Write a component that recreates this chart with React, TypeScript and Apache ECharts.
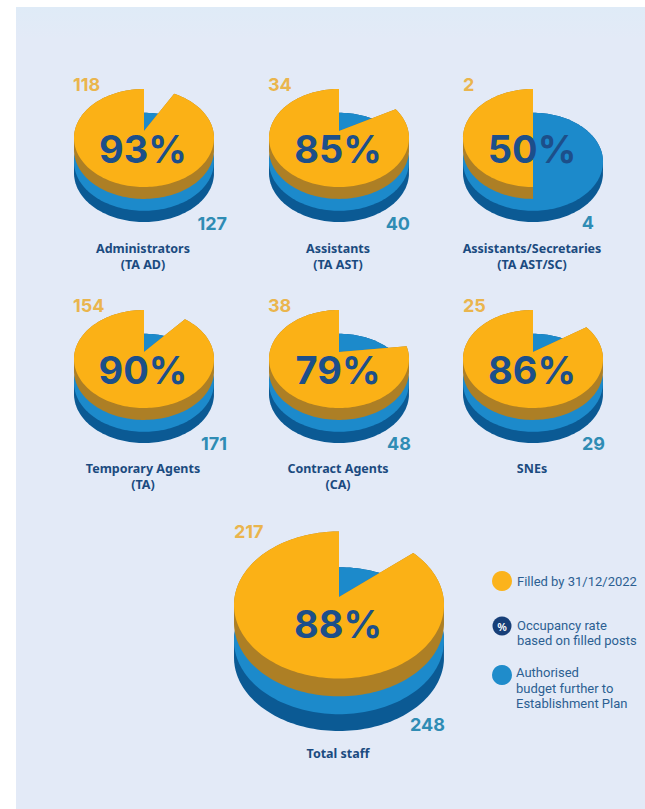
import React, { useEffect, useRef } from "react";
import * as echarts from "echarts";

// Staff figures per category
const categories = [
  ["Administrators", "(TA AD)"],
  ["Assistants", "(TA AST)"],
  ["Assistants/Secretaries", "(TA AST/SC)"],
  ["Temporary Agents", "(TA)"],
  ["Contract Agents", "(CA)"],
  ["SNEs"],
  ["Total staff"],
];
const filledPosts = [118, 34, 2, 154, 38, 25, 217];
const authorisedPosts = [127, 40, 4, 171, 48, 29, 248];
const occupancyLabels = ["93%", "85%", "50%", "90%", "79%", "86%", "88%"];

const legendFilled = "Filled by 31/12/2022";
const legendRate = "Occupancy rate\nbased on filled posts";
const legendBudget = "Authorised\nbudget further to\nEstablishment Plan";

// Page placement of each pie: disc centre, wedge apex, horizontal radius, and its captions
const pieLayout = [
  { cx: 144, cy: 138, ay: 131, rx: 70, filledX: 73, filledY: 84, budgetX: 227, budgetY: 223, nameY: 248 },
  { cx: 339, cy: 138, ay: 131, rx: 70, filledX: 268, filledY: 84, budgetX: 410, budgetY: 223, nameY: 248 },
  { cx: 533, cy: 138, ay: 131, rx: 70, filledX: 463, filledY: 84, budgetX: 594, budgetY: 222, nameY: 248 },
  { cx: 144, cy: 359, ay: 352, rx: 70, filledX: 73, filledY: 305, budgetX: 227, budgetY: 443, nameY: 468 },
  { cx: 339, cy: 359, ay: 352, rx: 70, filledX: 268, filledY: 305, budgetX: 411, budgetY: 443, nameY: 468 },
  { cx: 533, cy: 359, ay: 352, rx: 70, filledX: 463, filledY: 305, budgetX: 605, budgetY: 443, nameY: 468 },
  { cx: 339, cy: 605, ay: 597, rx: 105, filledX: 234, filledY: 531, budgetX: 445, budgetY: 724, nameY: 753 },
];

const GOLD = "#fbb116";
const BROWN = "#ad7f25";
const BLUE = "#1c8acb";
const DEEP = "#0b5a94";
const NAVY = "#1c4f8a";
const FONT = "Inter";
const CAPTION_FONT = "'Noto Sans'";
const LEGEND_FONT = "Roboto";

// One point on a tilted disc's rim; the near half can be dropped to form the disc's side
const rimPoint = (p: any, deg: number, shift: number, drop: number) => {
  const t = (deg * Math.PI) / 180;
  const c = Math.cos(t);
  return [p.cx + p.rx * Math.sin(t), p.cy + shift - p.rx * 0.7 * c + (c < 0 ? drop : 0)];
};

const rimPoints = (p: any, from: number, to: number, shift: number, drop: number) => {
  const pts: number[][] = [];
  for (let a = from; a < to; a += 2) pts.push(rimPoint(p, a, shift, drop));
  pts.push(rimPoint(p, to, shift, drop));
  return pts;
};

const renderPie = (params: any, api: any) => {
  const i = params.dataIndex;
  const p = pieLayout[i];
  const filled = api.value(0);
  const authorised = api.value(1);
  const gap = 360 * (1 - filled / authorised);
  const d1 = p.rx * 0.17;
  const d2 = p.rx * 0.34;
  const d3 = p.rx * 0.5;
  const apex = [p.cx, p.ay];
  const wedge = rimPoints(p, gap, 360, 0, 0);
  const wedgeSide = rimPoints(p, gap, 360, 0, d1);
  const k = p.rx / 70;
  const lines = categories[i];

  const children: any[] = [
    { type: "polygon", shape: { points: rimPoints(p, 0, 360, d2, d3 - d2) }, style: { fill: DEEP } },
    { type: "polygon", shape: { points: rimPoints(p, 0, 360, d2, 0) }, style: { fill: BLUE } },
    { type: "polygon", shape: { points: [apex, ...wedgeSide] }, style: { fill: BROWN } },
    { type: "polygon", shape: { points: [apex, ...wedge] }, style: { fill: GOLD } },
    {
      type: "text",
      style: {
        x: p.cx - 1,
        y: p.ay + 18 * k,
        text: occupancyLabels[i],
        fill: NAVY,
        font: `700 38px ${FONT}`,
        align: "center",
        verticalAlign: "middle",
      },
    },
    {
      type: "text",
      style: {
        x: p.filledX,
        y: p.filledY,
        text: String(filled),
        fill: "#eab54d",
        font: `700 18px ${FONT}`,
        align: "left",
        verticalAlign: "middle",
      },
    },
    {
      type: "text",
      style: {
        x: p.budgetX,
        y: p.budgetY,
        text: String(authorised),
        fill: "#2f8cb4",
        font: `700 18px ${FONT}`,
        align: "right",
        verticalAlign: "middle",
      },
    },
  ];
  lines.forEach((line, n) => {
    children.push({
      type: "text",
      style: {
        x: p.cx - 1,
        y: p.nameY + n * 16,
        text: line,
        fill: "#1b4b80",
        font: `700 12.5px ${CAPTION_FONT}`,
        align: "center",
        verticalAlign: "middle",
      },
    });
  });
  return { type: "group", children };
};

const legendText = (x: number, y: number, text: string) => ({
  type: "text",
  z: 5,
  style: {
    x,
    y,
    text,
    fill: "#2c5f92",
    font: `400 13px ${LEGEND_FONT}`,
    lineHeight: 15.5,
    align: "left",
    verticalAlign: "middle",
  },
});

export default function App() {
  const ref = useRef<HTMLDivElement>(null);

  useEffect(() => {
    const chart = echarts.init(ref.current!, null, { renderer: "svg" });
    chart.setOption({
      animation: false,
      backgroundColor: "#ffffff",
      graphic: [
        {
          type: "rect",
          z: -2,
          shape: { x: 16, y: 7, width: 629, height: 802 },
          style: {
            fill: new echarts.graphic.LinearGradient(0, 0, 0, 1, [
              { offset: 0, color: "#dfebf7" },
              { offset: 0.04, color: "#e3eaf7" },
              { offset: 1, color: "#e3eaf7" },
            ]),
          },
        },
        { type: "circle", z: 5, shape: { cx: 502, cy: 581, r: 10 }, style: { fill: "#fbb31c" } },
        { type: "circle", z: 5, shape: { cx: 502, cy: 626, r: 9.5 }, style: { fill: "#173f78" } },
        {
          type: "text",
          z: 6,
          style: {
            x: 502,
            y: 626,
            text: "%",
            fill: "#ffffff",
            font: `600 11px ${CAPTION_FONT}`,
            align: "center",
            verticalAlign: "middle",
          },
        },
        { type: "circle", z: 5, shape: { cx: 502, cy: 675, r: 10 }, style: { fill: "#1f8ccb" } },
        legendText(517, 581, legendFilled),
        legendText(517, 633, legendRate),
        legendText(516, 688, legendBudget),
      ],
      series: [
        {
          type: "custom",
          coordinateSystem: "none",
          silent: true,
          renderItem: renderPie,
          data: filledPosts.map((f, i) => [f, authorisedPosts[i]]),
        },
      ],
    });
    return () => chart.dispose();
  }, []);

  return <div ref={ref} style={{ position: "fixed", left: 0, top: 0, width: 645, height: 809 }} />;
}
